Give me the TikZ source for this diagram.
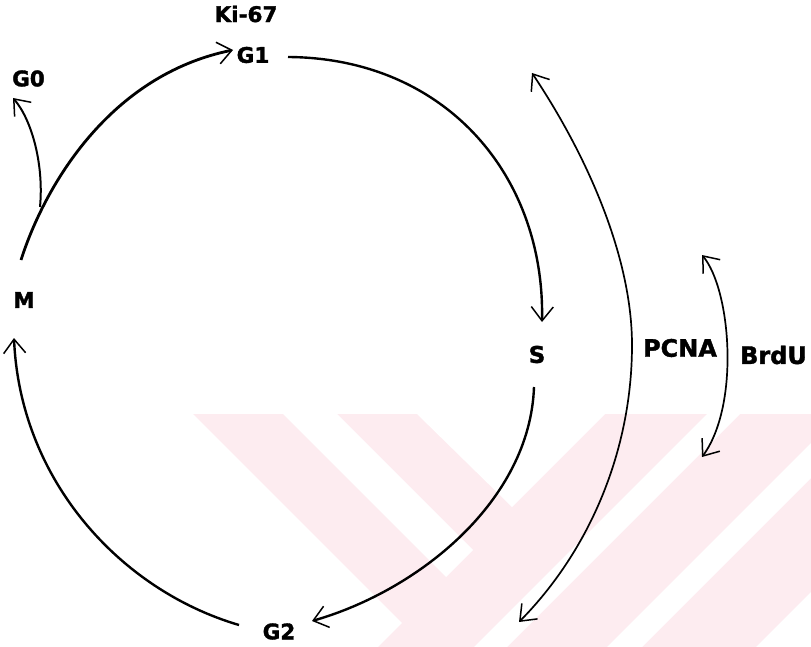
\documentclass[tikz,border=0pt]{standalone}
\usepackage{fontspec}
\setmainfont{DejaVu Sans}
\newfontfamily\lblfont{DejaVu Sans Bold}[FakeBold=1.6]
\usetikzlibrary{arrows.meta}
\definecolor{wmpink}{RGB}{253,236,240}
\tikzset{
  lbl/.style={font=\lblfont\fontsize{21.5}{21.5}\selectfont, inner sep=0pt},
  biglbl/.style={font=\lblfont\fontsize{24}{24}\selectfont, inner sep=0pt},
  barb/.tip={Straight Barb[length=14pt,width=22pt,line width=1.5pt]},
  phase/.style={line width=2.4pt, -barb},
  marker/.style={line width=1.7pt, barb-barb},
}
\begin{document}
\begin{tikzpicture}[x=1pt,y=-1pt]
\useasboundingbox (0,0) rectangle (811,647);

% faint striped background emblem
\fill[wmpink] (193,414) -- (811,414) -- (811,647) -- (378,647) -- (402,623) -- cycle;
\fill[white] (283,414) -- (337,414) -- (473,550) -- (446,577) -- cycle;
\fill[white] (417,414) -- (605,414) -- (512,507) -- cycle;
\fill[white] (707,414) -- (740,414) -- (507,647) -- (474,647) -- cycle;
\fill[white] (811,443) -- (811,478) -- (642,647) -- (607,647) -- cycle;
\fill[white] (811,592) -- (811,647) -- (756,647) -- cycle;

% phase labels
\node[lbl] (Ki) at (246,14) {Ki-67};
\node[lbl] (G1) at (253,55) {G1};
\node[lbl] (G0) at (28.5,78.5) {G0};
\node[lbl] (M) at (24,300) {M};
\node[font=\lblfont\fontsize{23}{23}\selectfont, inner sep=0pt] (S) at (537,354.5) {S};
\node[lbl] (G2) at (279,631.5) {G2};
\node[biglbl] (PCNA) at (680,348) {PCNA};
\node[biglbl] (BrdU) at (773.5,355) {BrdU};

% arc end points next to the labels
\coordinate (mTail) at (21,260);
\coordinate (g1In) at (233,50);
\coordinate (g1Out) at (288,57);
\coordinate (sIn) at (542,322);
\coordinate (sOut) at (534,387);
\coordinate (g2In) at (312,621);
\coordinate (g2Out) at (239,625);
\coordinate (mIn) at (14,338);
\coordinate (branch) at (40,207);
\coordinate (g0In) at (13,98);
\coordinate (pTop) at (532,73);
\coordinate (pMid) at (632,345);
\coordinate (pBot) at (519,622);
\coordinate (bTop) at (702,255);
\coordinate (bBot) at (702,457);

% the cycle
\draw[phase, line width=2.8pt] (mTail) .. controls (45,185) and (110,75) .. (g1In);
\draw[phase] (g1Out) .. controls (445,58) and (545,175) .. (sIn);
\draw[phase] (sOut) .. controls (530,500) and (420,590) .. (g2In);
\draw[phase] (g2Out) .. controls (120,590) and (20,480) .. (mIn);
\draw[phase, line width=2pt] (branch) .. controls (44,165) and (32,120) .. (g0In);

% marker ranges
\draw[marker] (pTop) .. controls (590,160) and (632,260) .. (pMid)
              .. controls (632,450) and (590,550) .. (pBot);
\draw[marker] (bTop) .. controls (731,290) and (740,405) .. (bBot);
\end{tikzpicture}
\end{document}
